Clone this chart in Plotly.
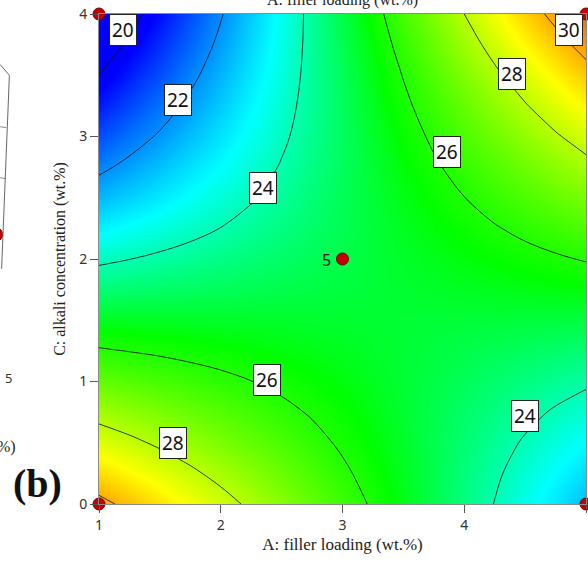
import plotly.graph_objects as go

# ---- data ----
filler_loading = [1, 1.25, 1.5, 1.75, 2, 2.25, 2.5, 2.75, 3,
                  3.25, 3.5, 3.75, 4, 4.25, 4.5, 4.75, 5]              # A (wt.%)
alkali_conc = [0, 0.25, 0.5, 0.75, 1, 1.25, 1.5, 1.75, 2,
               2.25, 2.5, 2.75, 3, 3.25, 3.5, 3.75, 4]                 # C (wt.%)
response = [
    [30.25, 29.77, 29.29, 28.80, 28.32, 27.84, 27.36, 26.87, 26.39, 25.91, 25.43, 24.94, 24.46, 23.98, 23.50, 23.01, 22.53],
    [29.37, 28.97, 28.56, 28.16, 27.75, 27.35, 26.94, 26.54, 26.13, 25.73, 25.32, 24.92, 24.51, 24.11, 23.70, 23.30, 22.89],
    [28.51, 28.19, 27.86, 27.53, 27.20, 26.88, 26.55, 26.22, 25.89, 25.57, 25.24, 24.91, 24.58, 24.26, 23.93, 23.60, 23.27],
    [27.68, 27.43, 27.18, 26.93, 26.68, 26.43, 26.18, 25.93, 25.68, 25.43, 25.18, 24.93, 24.68, 24.43, 24.18, 23.93, 23.68],
    [26.87, 26.70, 26.52, 26.35, 26.18, 26.01, 25.83, 25.66, 25.49, 25.32, 25.14, 24.97, 24.80, 24.63, 24.45, 24.28, 24.11],
    [26.08, 25.98, 25.89, 25.79, 25.70, 25.60, 25.51, 25.41, 25.32, 25.22, 25.13, 25.03, 24.94, 24.84, 24.75, 24.65, 24.56],
    [25.31, 25.30, 25.28, 25.26, 25.24, 25.23, 25.21, 25.19, 25.17, 25.16, 25.14, 25.12, 25.10, 25.09, 25.07, 25.05, 25.03],
    [24.57, 24.63, 24.69, 24.75, 24.81, 24.87, 24.93, 24.99, 25.05, 25.11, 25.17, 25.23, 25.29, 25.35, 25.41, 25.47, 25.53],
    [23.85, 23.99, 24.13, 24.26, 24.40, 24.54, 24.68, 24.81, 24.95, 25.09, 25.23, 25.36, 25.50, 25.64, 25.78, 25.91, 26.05],
    [23.15, 23.37, 23.58, 23.80, 24.01, 24.23, 24.44, 24.66, 24.87, 25.09, 25.30, 25.52, 25.73, 25.95, 26.16, 26.38, 26.59],
    [22.48, 22.77, 23.06, 23.36, 23.65, 23.94, 24.23, 24.53, 24.82, 25.11, 25.40, 25.70, 25.99, 26.28, 26.57, 26.87, 27.16],
    [21.83, 22.20, 22.57, 22.94, 23.31, 23.68, 24.05, 24.42, 24.79, 25.16, 25.53, 25.90, 26.27, 26.64, 27.01, 27.38, 27.75],
    [21.20, 21.65, 22.09, 22.54, 22.99, 23.44, 23.88, 24.33, 24.78, 25.23, 25.67, 26.12, 26.57, 27.02, 27.46, 27.91, 28.36],
    [20.59, 21.12, 21.64, 22.17, 22.69, 23.22, 23.74, 24.27, 24.79, 25.32, 25.84, 26.37, 26.89, 27.42, 27.94, 28.47, 28.99],
    [20.01, 20.61, 21.21, 21.82, 22.42, 23.02, 23.62, 24.23, 24.83, 25.43, 26.03, 26.64, 27.24, 27.84, 28.44, 29.05, 29.65],
    [19.45, 20.13, 20.81, 21.49, 22.17, 22.85, 23.53, 24.21, 24.89, 25.57, 26.25, 26.93, 27.61, 28.29, 28.97, 29.65, 30.33],
    [18.91, 19.67, 20.43, 21.18, 21.94, 22.70, 23.46, 24.21, 24.97, 25.73, 26.49, 27.24, 28.00, 28.76, 29.52, 30.27, 31.03],
]
design_A = [1, 1, 5, 5, 3]
design_C = [0, 4, 0, 4, 2]
center_replicates = "5"

label_text = ["20", "22", "24", "26", "28", "30", "26", "28", "24"]
label_A = [1.20, 1.65, 2.35, 3.86, 4.39, 4.86, 2.38, 1.61, 4.50]
label_C = [3.87, 3.30, 2.58, 2.87, 3.51, 3.87, 1.01, 0.50, 0.72]

x_ticks = [1, 2, 3, 4, 5]
y_ticks = [0, 1, 2, 3, 4]

Z_MIN, Z_MAX = 20.3, 32.4
stops = [(20.3, "rgb(0,0,255)"), (23.3, "rgb(0,255,255)"), (25.6, "rgb(0,255,0)"),
         (28.9, "rgb(255,255,0)"), (32.4, "rgb(255,0,0)")]
colorscale = [[(v - Z_MIN) / (Z_MAX - Z_MIN), c] for v, c in stops]

fig = go.Figure()
fig.add_trace(go.Contour(
    x=filler_loading, y=alkali_conc, z=response,
    colorscale=colorscale, zmin=Z_MIN, zmax=Z_MAX, zauto=False,
    showscale=False,
    contours=dict(start=20, end=30, size=2, coloring="heatmap", showlabels=False),
    line=dict(color="rgba(15,15,15,0.9)", width=0.9, smoothing=1.0),
    hoverinfo="skip",
))
fig.add_trace(go.Scatter(
    x=design_A, y=design_C, mode="markers",
    marker=dict(size=12, color="#c40000", line=dict(color="#7a0000", width=1)),
    cliponaxis=False, hoverinfo="skip", showlegend=False,
))

sans = "Noto Sans, DejaVu Sans"
serif = "Liberation Serif"
annotations = []
for t, a, c in zip(label_text, label_A, label_C):
    annotations.append(dict(
        x=a, y=c, xref="x", yref="y", text=t, showarrow=False,
        font=dict(family=sans, size=19, color="#111"),
        bgcolor="white", bordercolor="#222", borderwidth=1, borderpad=2,
    ))
annotations.append(dict(
    x=design_A[4], y=design_C[4], xref="x", yref="y", text=center_replicates,
    showarrow=False, xshift=-16, yshift=-1,
    font=dict(family=sans, size=16, color="#111"),
))
# cropped pieces of neighbouring panels
annotations.append(dict(
    x=0.5, y=1.0, xref="paper", yref="paper", yshift=14, text="A: filler loading (wt.%)",
    showarrow=False, xanchor="center", yanchor="middle",
    font=dict(family=serif, size=16, color="#222"),
))
annotations.append(dict(
    x=0, y=0, xref="paper", yref="paper", xshift=-62, yshift=21, text="<b>(b)</b>",
    showarrow=False, xanchor="center", yanchor="middle",
    font=dict(family=serif, size=40, color="#111"),
))
annotations.append(dict(
    x=0, y=0, xref="paper", yref="paper", xshift=-91, yshift=126, text="5",
    showarrow=False, xanchor="center", yanchor="middle",
    font=dict(family=sans, size=13, color="#333"),
))
annotations.append(dict(
    x=0, y=0, xref="paper", yref="paper", xshift=-93, yshift=57, text="%)",
    showarrow=False, xanchor="center", yanchor="middle",
    font=dict(family=serif, size=16, color="#222"),
))

fig.update_layout(
    width=588, height=562,
    margin=dict(l=99, r=2, t=14, b=58),
    paper_bgcolor="white", plot_bgcolor="white",
    showlegend=False,
    annotations=annotations,
    xaxis=dict(
        range=[1, 5], tickvals=x_ticks, ticks="outside", ticklen=8, tickcolor="#555",
        showline=True, linecolor="#8a8a8a", linewidth=1, mirror=True,
        showgrid=False, zeroline=False,
        tickfont=dict(family=sans, size=14, color="#333"),
        title=dict(text="A: filler loading (wt.%)", standoff=5,
                   font=dict(family=serif, size=17, color="#222")),
    ),
    yaxis=dict(
        range=[0, 4], tickvals=y_ticks, ticks="outside", ticklen=8, tickcolor="#555",
        showline=True, linecolor="#8a8a8a", linewidth=1, mirror=True,
        showgrid=False, zeroline=False,
        tickfont=dict(family=sans, size=14, color="#333"),
        title=dict(text="C: alkali concentration (wt.%)", standoff=9,
                   font=dict(family=serif, size=16, color="#222")),
    ),
    shapes=[
        dict(type="line", xref="paper", yref="paper", x0=-0.203, y0=0.897, x1=-0.184, y1=0.875,
             line=dict(color="#666", width=1)),
        dict(type="line", xref="paper", yref="paper", x0=-0.184, y0=0.875, x1=-0.2, y1=0.48,
             line=dict(color="#666", width=1)),
        dict(type="line", xref="paper", yref="paper", x0=-0.203, y0=0.77, x1=-0.19, y1=0.768,
             line=dict(color="#888", width=1)),
        dict(type="line", xref="paper", yref="paper", x0=-0.203, y0=0.666, x1=-0.192, y1=0.664,
             line=dict(color="#888", width=1)),
        dict(type="circle", xref="paper", yref="paper", x0=-0.2145, y0=0.538, x1=-0.1985, y1=0.562,
             fillcolor="#c40000", line=dict(color="#7a0000", width=1)),
    ],
)
fig.write_html("out.html")
